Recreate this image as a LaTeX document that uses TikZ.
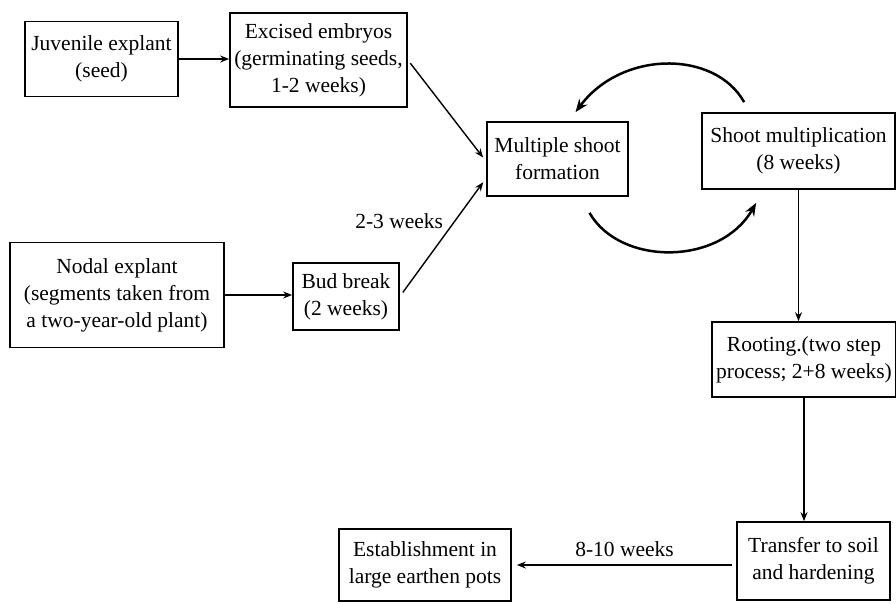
\documentclass[tikz,border=0pt]{standalone}
\usepackage{fontspec}
\setmainfont{LiberationSerif}[Extension=.ttf, UprightFont=*-Regular, BoldFont=*-Bold]
\usetikzlibrary{arrows.meta, calc}

\begin{document}
\begin{tikzpicture}[x=1pt, y=-1pt,
  box/.style={draw, line width=1.7pt, align=center, inner sep=1pt,
    font=\rmfamily\fontsize{21.5}{27}\selectfont},
  lbl/.style={font=\rmfamily\fontsize{21.5}{27}\selectfont},
  flow/.style={-{Stealth[length=9pt, width=7pt]}, line width=1.4pt},
  loopflow/.style={-{Stealth[length=13pt, width=10pt]}, line width=2.5pt}]
  \useasboundingbox (0,0) rectangle (896,603);

  % Explant sources
  \node[box, minimum width=153, minimum height=75] (juv) at (101.5,59) {Juvenile explant\\(seed)};
  \node[box, minimum width=177, minimum height=94] (exc) at (318.5,60) {Excised embryos\\(germinating seeds,\\1-2 weeks)};
  \node[box, minimum width=214, minimum height=105] (nodal) at (117,295) {Nodal explant\\(segments taken from\\a two-year-old plant)};
  \node[box, minimum width=106, minimum height=67] (bud) at (346,296.5) {Bud break\\(2 weeks)};

  % Shoot stages
  \node[box, minimum width=141, minimum height=74] (mult) at (557.5,159) {Multiple shoot\\formation};
  \node[box, minimum width=193, minimum height=76] (shoot) at (798.5,151) {Shoot multiplication\\(8 weeks)};

  % Rooting and transfer
  \node[box, minimum width=184, minimum height=75] (root) at (804,359.5) {Rooting.(two step\\process; 2+8 weeks)};
  \node[box, minimum width=153, minimum height=78] (trans) at (813.5,561) {Transfer to soil\\and hardening};
  \node[box, minimum width=172, minimum height=72] (est) at (425,565) {Establishment in\\large earthen pots};

  % Straight arrows
  \draw[flow] (juv.east) -- (juv.east -| exc.west);
  \draw[flow, shorten <=4pt, shorten >=5pt] (exc.east) -- (mult.182);
  \draw[flow] (nodal.east) -- (nodal.east -| bud.west);
  \draw[flow, shorten <=5pt, shorten >=5pt] (bud.east) -- (mult.195)
    node[lbl, pos=0.64, left=8pt] {2-3 weeks};
  \draw[flow] (shoot.south) -- (shoot.south |- root.north);
  \draw[flow] (root.south) -- (root.south |- trans.north);
  \draw[flow] ($(trans.west)+(-4,4)$) -- ($(est.east)+(5,0)$)
    node[lbl, midway, above=4pt] {8-10 weeks};

  % Cycle between the two shoot boxes
  \draw[loopflow] ($(shoot.north west)+(43,-10)$) .. controls (715,50) and (622,50) .. ($(mult.north)+(18,-9)$);
  \draw[loopflow] ($(mult.south)+(32,16)$) .. controls (620,266) and (720,266) .. ($(shoot.south west)+(55,13)$);
\end{tikzpicture}
\end{document}
